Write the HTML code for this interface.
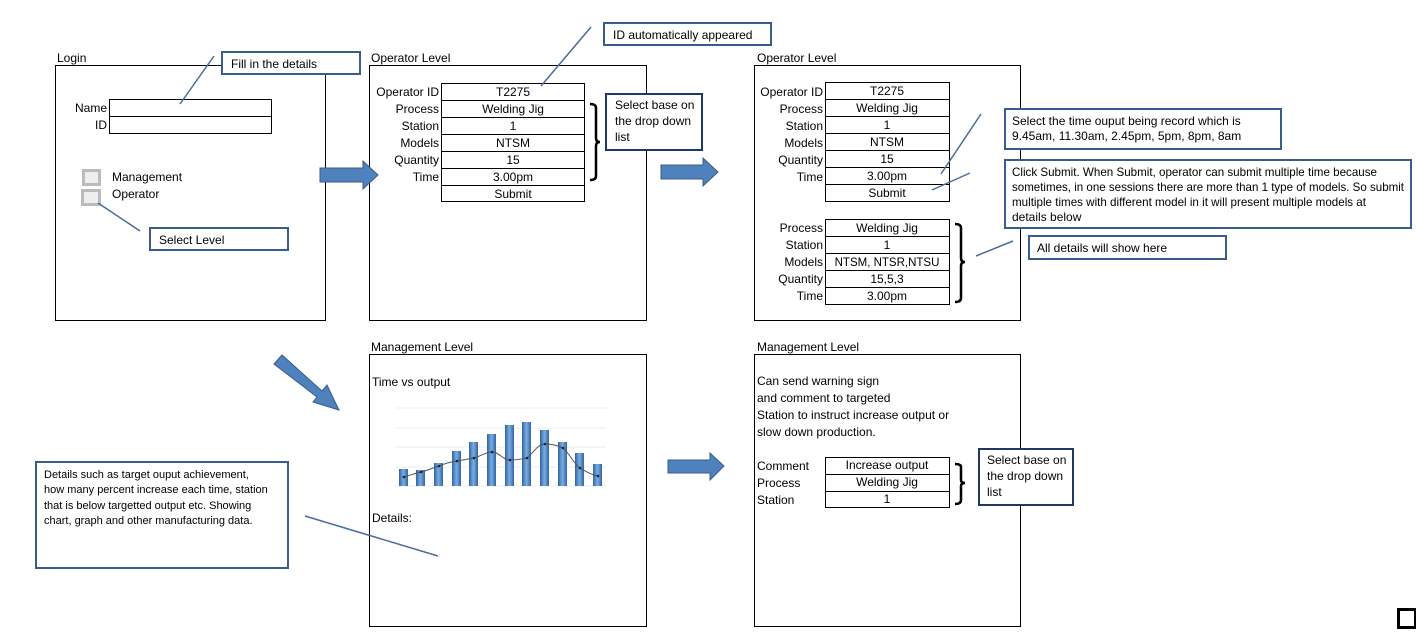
<!DOCTYPE html>
<html><head><meta charset="utf-8"><style>
html,body{margin:0;padding:0;background:#fff;}
svg{display:block;font-family:"Liberation Sans",sans-serif;}
text{font-size:12px;fill:#000;}
</style></head><body>
<svg width="1416" height="632" viewBox="0 0 1416 632" xmlns="http://www.w3.org/2000/svg">
<defs>
<linearGradient id="bg" x1="0" x2="1" y1="0" y2="0">
<stop offset="0" stop-color="#2f63a6"/><stop offset="0.5" stop-color="#7aaee0"/><stop offset="1" stop-color="#2f63a6"/>
</linearGradient>
</defs>
<g fill="#fff" stroke="#000" stroke-width="1">
<rect x="55.5" y="65.5" width="270" height="255"/>
<rect x="369.5" y="65.5" width="277" height="255"/>
<rect x="754.5" y="65.5" width="266" height="255"/>
<rect x="369.5" y="354.5" width="277" height="272"/>
<rect x="754.5" y="354.5" width="266" height="272"/>
</g>
<text x="57" y="62">Login</text>
<text x="371" y="62">Operator Level</text>
<text x="757" y="62">Operator Level</text>
<text x="371" y="351">Management Level</text>
<text x="757" y="351">Management Level</text>

<!-- Login -->
<g fill="none" stroke="#000"><rect x="109.5" y="99.5" width="162" height="17"/><rect x="109.5" y="116.5" width="162" height="17"/></g>
<text x="107" y="112" text-anchor="end">Name</text>
<text x="107" y="129" text-anchor="end">ID</text>
<rect x="83.5" y="170.5" width="16" height="14" fill="#eee" stroke="#bbb" stroke-width="3"/>
<rect x="82.5" y="190.5" width="17" height="14" fill="#eee" stroke="#bbb" stroke-width="3"/>
<text x="112" y="181">Management</text>
<text x="112" y="198">Operator</text>

<!-- Op1 table -->
<g fill="none" stroke="#000">
<rect x="441.5" y="83.5" width="143" height="17"/><rect x="441.5" y="100.5" width="143" height="17"/><rect x="441.5" y="117.5" width="143" height="17"/><rect x="441.5" y="134.5" width="143" height="17"/><rect x="441.5" y="151.5" width="143" height="17"/><rect x="441.5" y="168.5" width="143" height="17"/><rect x="441.5" y="185.5" width="143" height="16"/>
</g>
<g text-anchor="end"><text x="439" y="96">Operator ID</text><text x="439" y="113">Process</text><text x="439" y="130">Station</text><text x="439" y="147">Models</text><text x="439" y="164">Quantity</text><text x="439" y="181">Time</text></g>
<g text-anchor="middle"><text x="513" y="96">T2275</text><text x="513" y="113">Welding Jig</text><text x="513" y="130">1</text><text x="513" y="147">NTSM</text><text x="513" y="164">15</text><text x="513" y="181">3.00pm</text><text x="513" y="198">Submit</text></g>

<!-- Op2 table -->
<g fill="none" stroke="#000">
<rect x="825.5" y="82.5" width="124" height="17"/><rect x="825.5" y="99.5" width="124" height="17"/><rect x="825.5" y="116.5" width="124" height="17"/><rect x="825.5" y="133.5" width="124" height="17"/><rect x="825.5" y="150.5" width="124" height="17"/><rect x="825.5" y="167.5" width="124" height="17"/><rect x="825.5" y="184.5" width="124" height="17"/>
<rect x="825.5" y="219.5" width="124" height="17"/><rect x="825.5" y="236.5" width="124" height="17"/><rect x="825.5" y="253.5" width="124" height="17"/><rect x="825.5" y="270.5" width="124" height="17"/><rect x="825.5" y="287.5" width="124" height="17"/>
</g>
<g text-anchor="end"><text x="823" y="96">Operator ID</text><text x="823" y="113">Process</text><text x="823" y="130">Station</text><text x="823" y="147">Models</text><text x="823" y="164">Quantity</text><text x="823" y="181">Time</text>
<text x="823" y="232">Process</text><text x="823" y="249">Station</text><text x="823" y="266">Models</text><text x="823" y="283">Quantity</text><text x="823" y="300">Time</text></g>
<g text-anchor="middle"><text x="887" y="95">T2275</text><text x="887" y="112">Welding Jig</text><text x="887" y="129">1</text><text x="887" y="146">NTSM</text><text x="887" y="163">15</text><text x="887" y="180">3.00pm</text><text x="887" y="197">Submit</text>
<text x="887" y="232">Welding Jig</text><text x="887" y="249">1</text><text x="887" y="266" style="font-size:11.5px">NTSM, NTSR,NTSU</text><text x="887" y="283">15,5,3</text><text x="887" y="300">3.00pm</text></g>

<!-- Mgmt1 -->
<text x="372" y="386">Time vs output</text>
<text x="372" y="522">Details:</text>
<g stroke="#eee"><line x1="395" y1="408" x2="606" y2="408"/><line x1="395" y1="428" x2="606" y2="428"/><line x1="395" y1="447" x2="606" y2="447"/><line x1="395" y1="467" x2="606" y2="467"/><line x1="395" y1="486" x2="606" y2="486"/></g>
<g fill="url(#bg)">
<rect x="399" y="469" width="9" height="17"/><rect x="416" y="470" width="9" height="16"/><rect x="434" y="463" width="9" height="23"/><rect x="452" y="451" width="9" height="35"/><rect x="469" y="442" width="9" height="44"/><rect x="487" y="434" width="9" height="52"/><rect x="505" y="425" width="9" height="61"/><rect x="522" y="422" width="9" height="64"/><rect x="540" y="430" width="9" height="56"/><rect x="558" y="442" width="9" height="44"/><rect x="575" y="453" width="9" height="33"/><rect x="593" y="464" width="9" height="22"/>
</g>
<path d="M404 477 C412 475 415 473 421 472 C428 470 433 468 439 466 C446 463 450 462 457 461 C463 460 468 459 474 458 C481 456 486 452 492 452 C499 452 503 460 510 460 C517 460 521 459 527 458 C534 452 538 444 545 444 C552 444 557 445 563 448 C570 454 574 464 580 468 C587 472 592 475 598 476" fill="none" stroke="#555" stroke-width="1"/>
<g fill="#222"><circle cx="404" cy="477" r="1.3"/><circle cx="421" cy="472" r="1.3"/><circle cx="439" cy="466" r="1.3"/><circle cx="457" cy="461" r="1.3"/><circle cx="474" cy="458" r="1.3"/><circle cx="492" cy="452" r="1.3"/><circle cx="510" cy="460" r="1.3"/><circle cx="527" cy="458" r="1.3"/><circle cx="545" cy="444" r="1.3"/><circle cx="563" cy="448" r="1.3"/><circle cx="580" cy="468" r="1.3"/><circle cx="598" cy="476" r="1.3"/></g>

<!-- Mgmt2 -->
<text x="757" y="385">Can send warning sign</text>
<text x="757" y="402">and comment to targeted</text>
<text x="757" y="419">Station to instruct increase output or</text>
<text x="757" y="436">slow down  production.</text>
<g fill="none" stroke="#000"><rect x="825.5" y="457.5" width="124" height="17"/><rect x="825.5" y="474.5" width="124" height="17"/><rect x="825.5" y="491.5" width="124" height="16"/></g>
<text x="757" y="470">Comment</text><text x="757" y="487">Process</text><text x="757" y="504">Station</text>
<g text-anchor="middle"><text x="887" y="469">Increase output</text><text x="887" y="486">Welding Jig</text><text x="887" y="503">1</text></g>

<!-- brackets -->
<g fill="none" stroke="#000" stroke-width="2.5">
<path d="M590 104 Q596 104 596 108 L596 138 Q596 142 600 142 Q596 142 596 146 L596 176 Q596 180 590 180"/>
<path d="M955 224 Q961 224 961 228 L961 258 Q961 262 965 262 Q961 262 961 266 L961 298 Q961 302 955 302"/>
<path d="M955 464 Q961 464 961 467 L961 480 Q961 483 965 483 Q961 483 961 486 L961 500 Q961 504 955 504"/>
</g>

<!-- connector lines -->
<g stroke="#4a6c9b" stroke-width="1.5">
<line x1="180" y1="104" x2="214" y2="56"/>
<line x1="140" y1="231" x2="98" y2="203"/>
<line x1="541" y1="86" x2="591" y2="27"/>
<line x1="941" y1="174" x2="981" y2="114"/>
<line x1="932" y1="190" x2="970" y2="173"/>
<line x1="976" y1="256" x2="1013" y2="241"/>
<line x1="305" y1="516" x2="438" y2="556"/>
</g>

<!-- arrows -->
<g fill="#4f81bd" stroke="#385d8a" stroke-width="1">
<path d="M320 168 L363 168 L363 161 L378 175 L363 189 L363 182 L320 182 Z"/>
<path d="M661 165 L703 165 L703 158 L718 172 L703 186 L703 179 L661 179 Z"/>
<path d="M668 460 L710 460 L710 453 L724 466 L710 480 L710 473 L668 473 Z"/>
<path d="M274 364 L282 355 L322 391 L327 385 L339 410 L313 402 L317 397 Z"/>
</g>

<!-- callouts -->
<g fill="#fff" stroke="#385d8a" stroke-width="2">
<rect x="222" y="52" width="138" height="22"/>
<rect x="150" y="228" width="138" height="22"/>
<rect x="604" y="23" width="167" height="22"/>
<rect x="1005" y="109" width="276" height="40"/>
<rect x="1005" y="160" width="406" height="68"/>
<rect x="1029" y="236" width="197" height="23"/>
<rect x="36" y="462" width="252" height="106"/>
</g>
<g fill="#fff" stroke="#203864" stroke-width="2">
<rect x="606" y="94" width="96" height="56"/>
<rect x="979" y="449" width="94" height="56"/>
</g>
<text x="231" y="68">Fill in the details</text>
<text x="159" y="244">Select Level</text>
<text x="613" y="39">ID automatically appeared</text>
<text x="1012" y="125">Select the time ouput being record  which is</text>
<text x="1012" y="140">9.45am, 11.30am,  2.45pm, 5pm, 8pm, 8am</text>
<text x="1012" y="176" textLength="365" lengthAdjust="spacingAndGlyphs">Click Submit. When Submit, operator can submit multiple time because</text>
<text x="1012" y="191" textLength="392" lengthAdjust="spacingAndGlyphs">sometimes, in one sessions there are more than 1 type of models. So submit</text>
<text x="1012" y="206" textLength="354" lengthAdjust="spacingAndGlyphs">multiple times with different model in it will  present multiple models at</text>
<text x="1012" y="221">details below</text>
<text x="1037" y="252">All details will show here</text>
<text x="44" y="478" style="font-size:11px">Details such as target ouput achievement,</text>
<text x="44" y="493" style="font-size:11px">how many percent increase each time, station</text>
<text x="44" y="509" style="font-size:11px">that is below targetted output etc. Showing</text>
<text x="44" y="524" style="font-size:11px">chart, graph and other manufacturing data.</text>
<text x="615" y="109">Select base on</text>
<text x="615" y="125">the drop down</text>
<text x="615" y="141">list</text>
<text x="987" y="464">Select base on</text>
<text x="987" y="480">the drop down</text>
<text x="987" y="496">list</text>

<rect x="1398.5" y="609.5" width="17" height="18" fill="#fff" stroke="#000" stroke-width="3"/>
</svg>
</body></html>
